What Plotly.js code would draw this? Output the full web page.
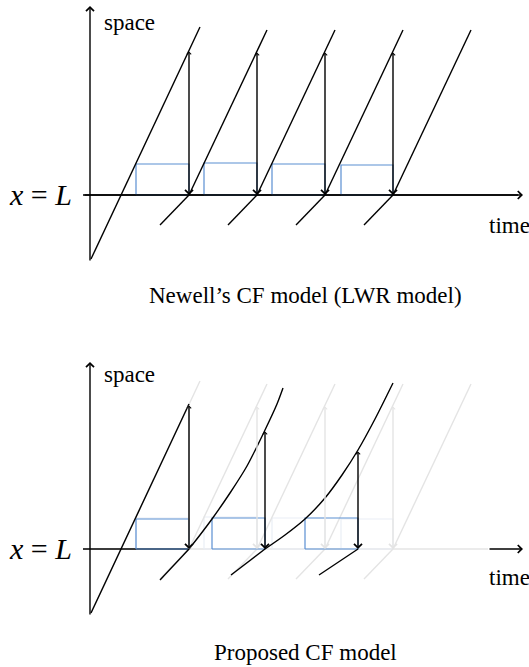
<!DOCTYPE html>
<html><head><meta charset="utf-8">
<script src="https://cdn.plot.ly/plotly-3.0.1.min.js"></script>
<style>html,body{margin:0;padding:0;background:#fff}#chart{width:529px;height:667px}</style>
</head><body><div id="chart"></div>
<script>
// ---------- Data (time / space units) ----------
// Newell's CF model (LWR model)
const newellTrajT = [[0.1, 11.0], [9.9, 17.7], [16.7, 24.5], [23.5, 31.3], [30.3, 38.1]];
const newellTrajS = [[-6.4, 16.8], [0, 16.5], [0, 16.5], [0, 16.5], [0, 16.5]];
const newellArrowT = [9.9, 16.7, 23.5, 30.3];
const newellArrowTop = [14.5, 14.4, 14.4, 14.4];
const newellBoxLeft = [4.6, 11.4, 18.2, 25.1];
const newellBoxTop = [3.1, 3.2, 3.1, 3.0];
const newellWaveStartT = [7.0, 13.8, 20.6, 27.4];
const newellWaveStartS = [-3.0, -3.0, -3.0, -3.0];

// Proposed CF model
const propLeadT = [0.1, 9.9];
const propLeadS = [-6.4, 14.5];
const propCurve2T = [9.9, 11.0, 12.2, 14.0, 15.7, 17.5, 18.7, 19.3];
const propCurve2S = [0, 1.4, 3.0, 5.6, 8.3, 11.9, 14.5, 16.1];
const propCurve3T = [17.5, 19.5, 21.5, 23.5, 25.2, 26.8, 28.5, 30.3];
const propCurve3S = [0, 1.4, 3.0, 5.1, 7.4, 9.9, 13.0, 16.6];
const propArrowT = [9.9, 17.5, 26.8];
const propArrowTop = [14.5, 11.9, 9.9];
const propBoxLeft = [4.6, 12.2, 21.5];
const propBoxTop = [3.0, 3.1, 3.1];
const propWaveStartT = [7.0, 14.1, 22.9];
const propWaveStartS = [-3.1, -2.6, -2.6];

// axes of the diagrams
const spaceAxisS = [-6.7, 18.9];
const timeAxisT = [-0.7, 43.3];
const timeAxisGrayEndT = 39.8;

const labels = {space: 'space', time: 'time', xl: '<i>x</i> = <i>L</i>',
  cap1: 'Newell\u2019s CF model (LWR model)', cap2: 'Proposed CF model'};

// ---------- Styles ----------
const BLACK = '#000000', BLUE = '#5b8fd2', GHOST = '#e4e4e4', GHOSTBOX = '#e9eef6';
const LW = 1.4;

const traces = [];
const annotations = [];

function line(t, s, color, width, xa, ya, spline) {
  traces.push({type: 'scatter', mode: 'lines', x: t, y: s, xaxis: xa, yaxis: ya,
    line: {color: color, width: width, shape: spline ? 'spline' : 'linear', smoothing: 0.8},
    hoverinfo: 'skip', showlegend: false});
}
function arrow(t0, s0, t1, s1, xa, ya, color, both) {
  const xr = xa === 'x' ? 'x' : 'x2', yr = ya === 'y' ? 'y' : 'y2';
  const a = {x: t1, y: s1, ax: t0, ay: s0, xref: xr, yref: yr, axref: xr, ayref: yr,
    showarrow: true, text: '', arrowhead: 4, arrowsize: 1.1, arrowwidth: LW, arrowcolor: color,
    standoff: 0, startstandoff: 0};
  if (both) { a.arrowside = 'end+start'; a.startarrowhead = 4; a.startarrowsize = 0.6; }
  annotations.push(a);
}
function box(l, r, top, color, xa, ya) {
  line([l, r, r, l, l], [0, 0, top, top, 0], color, 1.2, xa, ya, false);
}
function newell(xa, ya, color, boxColor, arrColor) {
  for (let i = 0; i < newellBoxLeft.length; i++) box(newellBoxLeft[i], newellArrowT[i], newellBoxTop[i], boxColor, xa, ya);
  for (let i = 0; i < newellTrajT.length; i++) line(newellTrajT[i], newellTrajS[i], color, LW, xa, ya);
  for (let i = 0; i < newellWaveStartT.length; i++)
    line([newellWaveStartT[i], newellArrowT[i]], [newellWaveStartS[i], 0], color, LW, xa, ya);
  for (let i = 0; i < newellArrowT.length; i++)
    arrow(newellArrowT[i], newellArrowTop[i], newellArrowT[i], 0, xa, ya, arrColor, true);
}

// ---------- Top panel ----------
line([timeAxisT[0], timeAxisT[1] - 0.5], [0, 0], BLACK, LW, 'x', 'y');
arrow(timeAxisT[0], 0, timeAxisT[1], 0, 'x', 'y', BLACK, false);
arrow(0, spaceAxisS[0], 0, spaceAxisS[1], 'x', 'y', BLACK, false);
newell('x', 'y', BLACK, BLUE, BLACK);

// ---------- Bottom panel ----------
line([timeAxisT[0], timeAxisGrayEndT], [0, 0], GHOST, LW, 'x2', 'y2');
newell('x2', 'y2', GHOST, GHOSTBOX, GHOST);
line([timeAxisT[0], propArrowT[0]], [0, 0], BLACK, LW, 'x2', 'y2');
arrow(timeAxisGrayEndT, 0, timeAxisT[1], 0, 'x2', 'y2', BLACK, false);
arrow(0, spaceAxisS[0], 0, spaceAxisS[1] - 0.2, 'x2', 'y2', BLACK, false);
for (let i = 0; i < propBoxLeft.length; i++) box(propBoxLeft[i], propArrowT[i], propBoxTop[i], BLUE, 'x2', 'y2');
line(propLeadT, propLeadS, BLACK, LW, 'x2', 'y2');
line(propCurve2T, propCurve2S, BLACK, LW, 'x2', 'y2', true);
line(propCurve3T, propCurve3S, BLACK, LW, 'x2', 'y2', true);
for (let i = 0; i < propWaveStartT.length; i++)
  line([propWaveStartT[i], propArrowT[i]], [propWaveStartS[i], 0], BLACK, LW, 'x2', 'y2');
for (let i = 0; i < propArrowT.length; i++)
  arrow(propArrowT[i], propArrowTop[i], propArrowT[i], 0, 'x2', 'y2', BLACK, true);

// ---------- Text ----------
const SERIF = 'Liberation Serif, Times New Roman, serif';
function txt(text, t, s, xa, ya, xanchor, size) {
  annotations.push({text: text, x: t, y: s, xref: xa, yref: ya, showarrow: false,
    xanchor: xanchor, yanchor: 'middle', font: {family: SERIF, size: size, color: '#000'}});
}
txt(labels.space, 1.2, 17.3, 'x', 'y', 'left', 23);
txt(labels.time, 39.7, -3.0, 'x', 'y', 'left', 23);
txt(labels.xl, -1.6, 0.1, 'x', 'y', 'right', 30);
txt(labels.cap1, 21.5, -10.0, 'x', 'y', 'center', 23);
txt(labels.space, 1.2, 17.5, 'x2', 'y2', 'left', 23);
txt(labels.time, 39.7, -2.8, 'x2', 'y2', 'left', 23);
txt(labels.xl, -1.6, 0.1, 'x2', 'y2', 'right', 30);
txt(labels.cap2, 21.5, -10.3, 'x2', 'y2', 'center', 23);

const hidden = {visible: false, fixedrange: true, showgrid: false, zeroline: false};
const layout = {
  width: 529, height: 667, margin: {l: 0, r: 0, t: 0, b: 0},
  paper_bgcolor: '#fff', plot_bgcolor: '#fff', showlegend: false,
  xaxis: Object.assign({domain: [0, 1], range: [-9, 43.9], anchor: 'y'}, hidden),
  yaxis: Object.assign({domain: [0.5, 1], range: [-13.85, 19.5], anchor: 'x'}, hidden),
  xaxis2: Object.assign({domain: [0, 1], range: [-9, 43.9], anchor: 'y2'}, hidden),
  yaxis2: Object.assign({domain: [0, 0.5], range: [-11.8, 21.55], anchor: 'x2'}, hidden),
  annotations: annotations
};
Plotly.newPlot('chart', traces, layout, {staticPlot: true, displayModeBar: false});
</script>
</body></html>
